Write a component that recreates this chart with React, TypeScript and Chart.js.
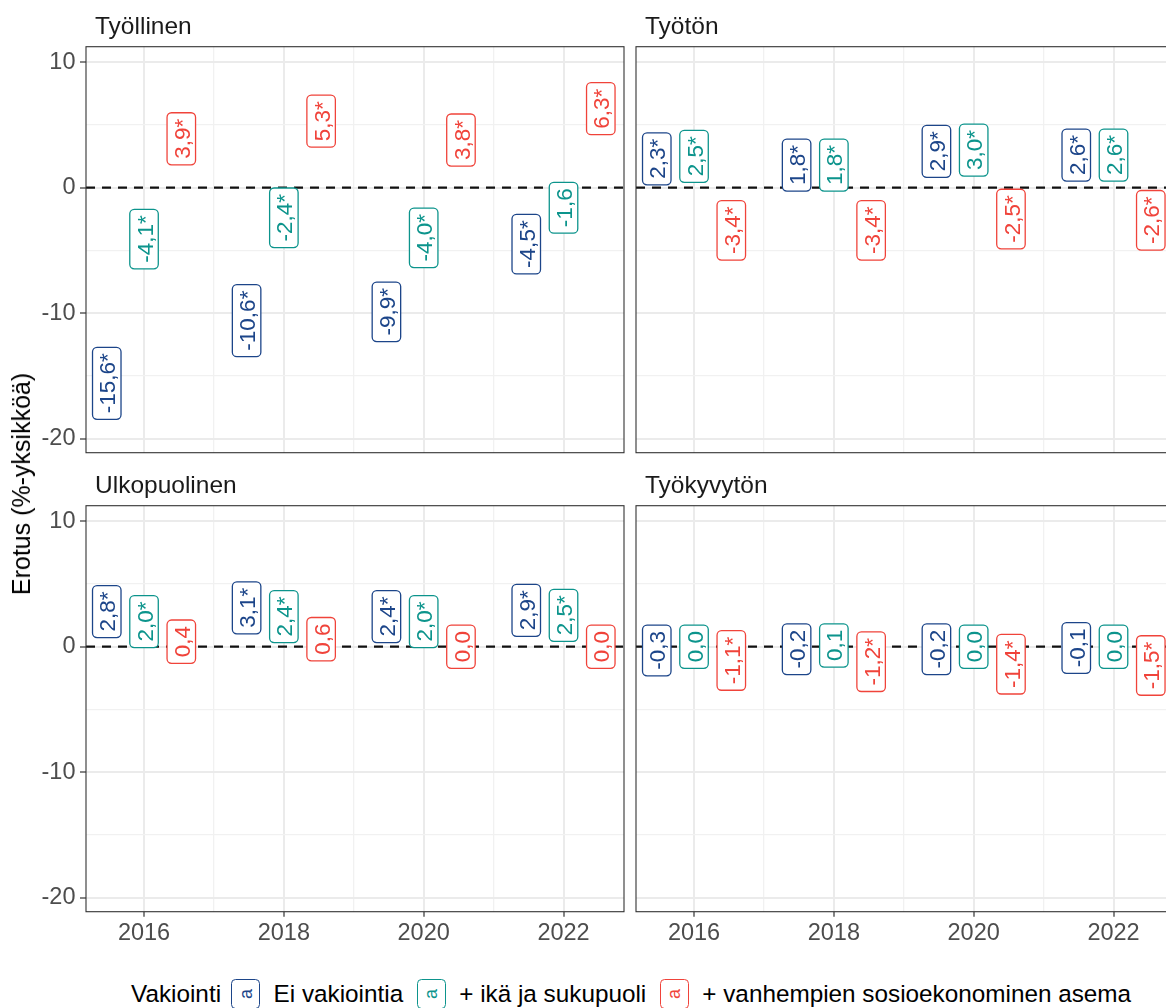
import React, { useEffect, useRef } from "react";
import { Chart, registerables } from "chart.js";

Chart.register(...registerables);

// ---------------- data ----------------
const years = [2016, 2018, 2020, 2022];
const seriesNames = ["Ei vakiointia", "+ ikä ja sukupuoli", "+ vanhempien sosioekonominen asema"];
const legendTitle = "Vakiointi";
const yAxisTitle = "Erotus (%-yksikköä)";

const tyollinenEi = [-15.6, -10.6, -9.9, -4.5];
const tyollinenIka = [-4.1, -2.4, -4.0, -1.6];
const tyollinenVanh = [3.9, 5.3, 3.8, 6.3];
const tyollinenSig = [[true, true, true, true], [true, true, true, false], [true, true, true, true]];

const tyotonEi = [2.3, 1.8, 2.9, 2.6];
const tyotonIka = [2.5, 1.8, 3.0, 2.6];
const tyotonVanh = [-3.4, -3.4, -2.5, -2.6];
const tyotonSig = [[true, true, true, true], [true, true, true, true], [true, true, true, true]];

const ulkopuolinenEi = [2.8, 3.1, 2.4, 2.9];
const ulkopuolinenIka = [2.0, 2.4, 2.0, 2.5];
const ulkopuolinenVanh = [0.4, 0.6, 0.0, 0.0];
const ulkopuolinenSig = [[true, true, true, true], [true, true, true, true], [false, false, false, false]];

const tyokyvytonEi = [-0.3, -0.2, -0.2, -0.1];
const tyokyvytonIka = [0.0, 0.1, 0.0, 0.0];
const tyokyvytonVanh = [-1.1, -1.2, -1.4, -1.5];
const tyokyvytonSig = [[false, false, false, false], [false, false, false, false], [true, true, true, true]];

const xTicksMajor = [2016, 2018, 2020, 2022];
const xTicksMinor = [2017, 2019, 2021];
const yTicksMajor = [10, 0, -10, -20];
const yTicksMinor = [5, -5, -15];

// ---------------- styling ----------------
const COLORS = ["#1C4589", "#0C948C", "#F0433A"];
const DODGE = [-0.533, 0, 0.533];
const X_MIN = 2015.17;
const X_MAX = 2022.865;
const Y_MIN = -21.13;
const Y_MAX = 11.24;
const FONT = "'Liberation Sans', Arial, Helvetica, sans-serif";
const TICK_FONT_SIZE = 23.5;
const STRIP_FONT_SIZE = 24.5;
const LEGEND_FONT_SIZE = 24.3;
const LABEL_FONT_SIZE = 22.5;
const LABEL_PAD = 6;
const LABEL_BOX_H = 28.5;

function fmt(v: number, sig: boolean) {
  return v.toFixed(1).replace(".", ",") + (sig ? "*" : "");
}

const panelPlugin = {
  id: "panelDeco",
  beforeDatasetsDraw(chart: any) {
    const { ctx, chartArea: a, scales } = chart;
    const y0 = scales.y.getPixelForValue(0);
    ctx.save();
    ctx.beginPath();
    ctx.rect(a.left, a.top, a.right - a.left, a.bottom - a.top);
    ctx.clip();
    ctx.beginPath();
    ctx.setLineDash([9, 7]);
    ctx.lineWidth = 2.2;
    ctx.strokeStyle = "#111111";
    ctx.moveTo(a.left, y0);
    ctx.lineTo(a.right, y0);
    ctx.stroke();
    ctx.restore();
  },
  afterDatasetsDraw(chart: any) {
    const { ctx, chartArea: a } = chart;
    const sigs = chart.options.plugins.panelDeco.sig;
    ctx.save();
    ctx.beginPath();
    ctx.rect(a.left, a.top, a.right - a.left, a.bottom - a.top);
    ctx.clip();
    chart.data.datasets.forEach((ds: any, si: number) => {
      const meta = chart.getDatasetMeta(si);
      meta.data.forEach((el: any, i: number) => {
        const v = ds.data[i].y;
        const text = fmt(v, sigs[si][i]);
        const color = COLORS[si];
        ctx.save();
        ctx.translate(el.x, el.y);
        ctx.rotate(-Math.PI / 2);
        ctx.font = `${LABEL_FONT_SIZE}px ${FONT}`;
        const tw = ctx.measureText(text).width;
        const w = tw + 2 * LABEL_PAD;
        const h = LABEL_BOX_H;
        ctx.beginPath();
        if (ctx.roundRect) ctx.roundRect(-w / 2, -h / 2, w, h, 4.5);
        else ctx.rect(-w / 2, -h / 2, w, h);
        ctx.fillStyle = "#ffffff";
        ctx.fill();
        ctx.lineWidth = 1.3;
        ctx.strokeStyle = color;
        ctx.stroke();
        ctx.fillStyle = color;
        ctx.textAlign = "center";
        ctx.textBaseline = "alphabetic";
        ctx.fillText(text, 0, LABEL_FONT_SIZE * 0.716 / 2 + 0.5);
        ctx.restore();
      });
    });
    ctx.restore();
  },
  afterDraw(chart: any) {
    const { ctx, chartArea: a } = chart;
    const name = chart.options.plugins.panelDeco.name;
    ctx.save();
    ctx.strokeStyle = "#333333";
    ctx.lineWidth = 1.1;
    ctx.strokeRect(a.left, a.top, a.right - a.left, a.bottom - a.top);
    ctx.fillStyle = "#1A1A1A";
    ctx.font = `${STRIP_FONT_SIZE}px ${FONT}`;
    ctx.textAlign = "left";
    ctx.textBaseline = "alphabetic";
    ctx.fillText(name, a.left + 9, a.top - 12.5);
    ctx.restore();
  },
};

type PanelProps = {
  name: string;
  series: number[][];
  sig: boolean[][];
  showX: boolean;
  showY: boolean;
  left: number;
  top: number;
  width: number;
  height: number;
  padding: { top: number; right: number; bottom: number; left: number };
  yAxisW: number;
  xAxisH: number;
};

function Panel(p: PanelProps) {
  const ref = useRef<HTMLCanvasElement | null>(null);
  useEffect(() => {
    if (!ref.current) return;
    const isMajorX = (v: number) => xTicksMajor.includes(v);
    const isMajorY = (v: number) => yTicksMajor.includes(v);
    const chart = new Chart(ref.current, {
      type: "scatter",
      data: {
        datasets: p.series.map((vals, si) => ({
          label: seriesNames[si],
          data: years.map((yr, i) => ({ x: yr + DODGE[si], y: vals[i] })),
          pointRadius: 0,
          pointHoverRadius: 0,
          showLine: false,
          borderColor: COLORS[si],
          backgroundColor: COLORS[si],
        })),
      },
      options: {
        responsive: false,
        animation: false,
        events: [],
        layout: { padding: p.padding },
        plugins: {
          legend: { display: false },
          tooltip: { enabled: false },
          panelDeco: { name: p.name, sig: p.sig },
        } as any,
        scales: {
          x: {
            type: "linear",
            min: X_MIN,
            max: X_MAX,
            bounds: "data",
            afterBuildTicks: (s: any) => {
              s.ticks = [...xTicksMajor, ...xTicksMinor].sort((a, b) => a - b).map((v) => ({ value: v }));
            },
            afterFit: (s: any) => {
              s.height = p.showX ? p.xAxisH : 0;
              s.paddingLeft = 0;
              s.paddingRight = 0;
              s.paddingTop = 0;
              s.paddingBottom = 0;
            },
            ticks: {
              display: p.showX,
              autoSkip: false,
              maxRotation: 0,
              padding: 3,
              color: "#4D4D4D",
              font: { family: FONT, size: TICK_FONT_SIZE },
              callback: (v: any) => (isMajorX(Number(v)) ? String(v) : ""),
            },
            grid: {
              color: (c: any) => (c.tick && isMajorX(c.tick.value) ? "#EBEBEB" : "#F1F1F1"),
              lineWidth: (c: any) => (c.tick && isMajorX(c.tick.value) ? 2 : 1.3),
              drawTicks: p.showX,
              tickLength: 5,
              tickWidth: 1.2,
              tickColor: (c: any) => (c.tick && isMajorX(c.tick.value) ? "#333333" : "rgba(0,0,0,0)"),
            },
            border: { display: false },
          },
          y: {
            type: "linear",
            min: Y_MIN,
            max: Y_MAX,
            bounds: "data",
            afterBuildTicks: (s: any) => {
              s.ticks = [...yTicksMajor, ...yTicksMinor].sort((a, b) => a - b).map((v) => ({ value: v }));
            },
            afterFit: (s: any) => {
              s.width = p.showY ? p.yAxisW : 0;
              s.paddingLeft = 0;
              s.paddingRight = 0;
              s.paddingTop = 0;
              s.paddingBottom = 0;
            },
            ticks: {
              display: p.showY,
              autoSkip: false,
              padding: 4.5,
              color: "#4D4D4D",
              font: { family: FONT, size: TICK_FONT_SIZE },
              callback: (v: any) => (isMajorY(Number(v)) ? String(v) : ""),
            },
            grid: {
              color: (c: any) => (c.tick && isMajorY(c.tick.value) ? "#EBEBEB" : "#F1F1F1"),
              lineWidth: (c: any) => (c.tick && isMajorY(c.tick.value) ? 2 : 1.3),
              drawTicks: p.showY,
              tickLength: 6,
              tickWidth: 1.2,
              tickColor: (c: any) => (c.tick && isMajorY(c.tick.value) ? "#333333" : "rgba(0,0,0,0)"),
            },
            border: { display: false },
          },
        },
      },
      plugins: [panelPlugin],
    } as any);
    return () => chart.destroy();
  }, []);
  return (
    <canvas
      ref={ref}
      width={p.width}
      height={p.height}
      style={{ position: "absolute", left: p.left, top: p.top, width: p.width, height: p.height }}
    />
  );
}

function LegendKey({ color }: { color: string }) {
  return (
    <span
      style={{
        display: "inline-flex",
        alignItems: "center",
        justifyContent: "center",
        width: 27,
        height: 28,
        border: `1.3px solid ${color}`,
        borderRadius: 4.5,
        background: "#fff",
        boxSizing: "content-box",
      }}
    >
      <span style={{ display: "inline-block", transform: "rotate(-90deg)", color, fontSize: 18, lineHeight: "18px" }}>a</span>
    </span>
  );
}

export default function App() {
  const topPad = { top: 46.7, right: 2, bottom: 2.3, left: 0 };
  const topPadR = { top: 46.7, right: 2, bottom: 2.3, left: 2 };
  const botPad = { top: 46.7, right: 2, bottom: 0, left: 0 };
  const botPadR = { top: 46.7, right: 2, bottom: 0, left: 2 };
  return (
    <div
      style={{
        position: "absolute",
        left: 0,
        top: 0,
        width: 1166,
        height: 1008,
        overflow: "hidden",
        background: "#ffffff",
        fontFamily: FONT,
      }}
    >
      <Panel name="Työllinen" series={[tyollinenEi, tyollinenIka, tyollinenVanh]} sig={tyollinenSig}
        showX={false} showY={true} left={0} top={0} width={626} height={455} padding={topPad} yAxisW={86} xAxisH={0} />
      <Panel name="Työtön" series={[tyotonEi, tyotonIka, tyotonVanh]} sig={tyotonSig}
        showX={false} showY={false} left={634} top={0} width={542} height={455} padding={topPadR} yAxisW={0} xAxisH={0} />
      <Panel name="Ulkopuolinen" series={[ulkopuolinenEi, ulkopuolinenIka, ulkopuolinenVanh]} sig={ulkopuolinenSig}
        showX={true} showY={true} left={0} top={459} width={626} height={491} padding={botPad} yAxisW={86} xAxisH={38.3} />
      <Panel name="Työkyvytön" series={[tyokyvytonEi, tyokyvytonIka, tyokyvytonVanh]} sig={tyokyvytonSig}
        showX={true} showY={false} left={634} top={459} width={542} height={491} padding={botPadR} yAxisW={0} xAxisH={38.3} />

      <div
        style={{
          position: "absolute",
          left: 21,
          top: 484,
          transform: "translate(-50%, -50%) rotate(-90deg)",
          whiteSpace: "nowrap",
          fontSize: 25,
          lineHeight: "28px",
          color: "#000000",
        }}
      >
        {yAxisTitle}
      </div>

      <div
        style={{
          position: "absolute",
          left: 131,
          top: 979,
          height: 30,
          display: "flex",
          alignItems: "center",
          whiteSpace: "nowrap",
          fontSize: LEGEND_FONT_SIZE,
          color: "#000000",
        }}
      >
        <span style={{ marginRight: 10 }}>{legendTitle}</span>
        {seriesNames.map((n, i) => (
          <React.Fragment key={n}>
            <LegendKey color={COLORS[i]} />
            <span style={{ marginLeft: 13.5, marginRight: 13.5 }}>{n}</span>
          </React.Fragment>
        ))}
      </div>
    </div>
  );
}
